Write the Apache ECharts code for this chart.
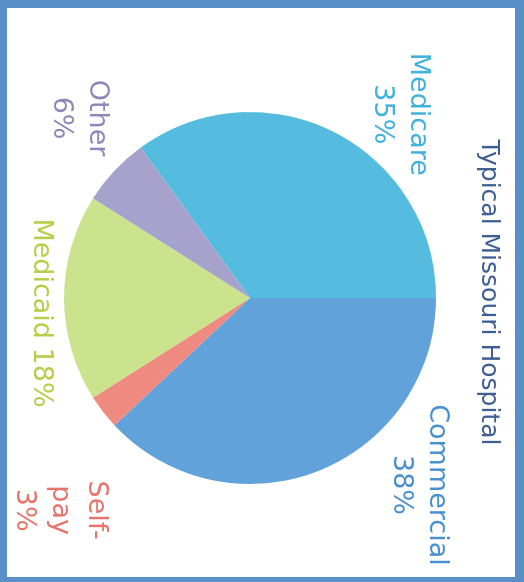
<!DOCTYPE html>
<html>
<head>
<meta charset="utf-8">
<script src="https://cdn.jsdelivr.net/npm/echarts@6/dist/echarts.min.js"></script>
<style>
  html, body { margin: 0; padding: 0; }
  body { width: 524px; height: 582px; background: #5a8fc8; position: relative; overflow: hidden; }
  #frame { position: absolute; left: 7px; top: 8px; width: 508px; height: 569px; background: #fff; }
  #chart { position: absolute; left: 0; top: 0; width: 569px; height: 508px;
           transform-origin: 0 0; transform: translate(515px, 8px) rotate(90deg); }
</style>
</head>
<body>
<div id="frame"></div>
<div id="chart"></div>
<script>
// Data
const titleText = 'Typical Missouri Hospital';
const categories = ['Commercial', 'Self-pay', 'Medicaid', 'Other', 'Medicare'];
const shares = [38, 3, 18, 6, 35];
const labelNames = ['Commercial\n', 'Self-\npay\n', 'Medicaid ', 'Other\n', 'Medicare\n'];

// Styles
const sliceColors = ['#60a2d9', '#ee8a80', '#cbe38c', '#a6a2cc', '#55bce0'];
const labelColors = ['#4a90d0', '#e8736a', '#b5cf4a', '#8c89b8', '#40b2dc'];
// label placement: [angle clockwise from 12 o'clock (deg), distance from centre (px)]
const labelPlace = [[47.9, 252], [131.9, 285], [175.9, 210], [226.5, 248], [309.2, 237]];

const center = [290, 265];
const radius = 186;

const chart = echarts.init(document.getElementById('chart'), null, { renderer: 'canvas' });
chart.setOption({
  animation: false,
  backgroundColor: 'transparent',
  title: {
    text: titleText,
    left: 'center',
    top: 9,
    textStyle: { fontFamily: 'DejaVu Sans', fontSize: 25, fontWeight: 'normal', color: '#3f5f93' }
  },
  series: [{
    type: 'pie',
    center: center,
    radius: radius,
    startAngle: 90,
    clockwise: true,
    avoidLabelOverlap: false,
    itemStyle: { borderWidth: 0 },
    label: {
      show: true,
      position: 'outside',
      fontFamily: 'DejaVu Sans',
      fontSize: 27,
      lineHeight: 36,
      align: 'center',
      formatter: p => labelNames[p.dataIndex] + p.value + '%'
    },
    labelLine: { show: false },
    labelLayout: p => {
      const [a, d] = labelPlace[p.dataIndex];
      const r = a * Math.PI / 180;
      return {
        x: center[0] + d * Math.sin(r),
        y: center[1] - d * Math.cos(r),
        align: 'center',
        verticalAlign: 'middle'
      };
    },
    data: categories.map((c, i) => ({
      name: c,
      value: shares[i],
      itemStyle: { color: sliceColors[i] },
      label: { color: labelColors[i] }
    }))
  }]
});
</script>
</body>
</html>
